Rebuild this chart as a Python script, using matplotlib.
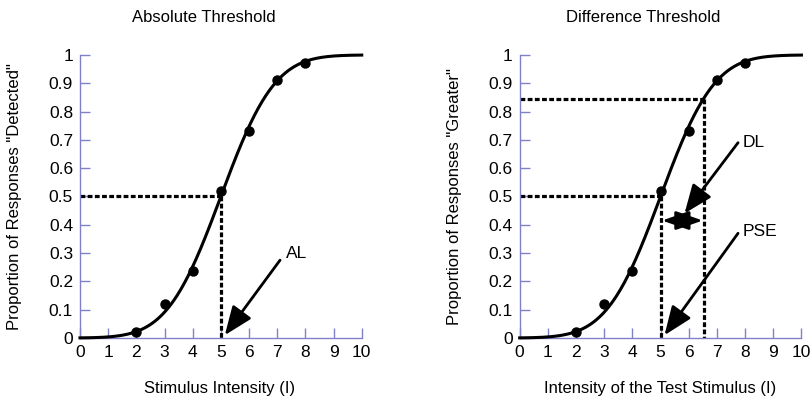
import math
import numpy as np
import matplotlib
matplotlib.use("Agg")
import matplotlib.pyplot as plt

plt.rcParams['font.family'] = ['Liberation Sans', 'DejaVu Sans']

# measured proportions at each stimulus level
intensity = [2, 3, 4, 5, 6, 7, 8]
p_detected = [0.02, 0.12, 0.235, 0.52, 0.73, 0.91, 0.97]
p_greater = [0.02, 0.12, 0.235, 0.52, 0.73, 0.91, 0.97]

# fitted cumulative normal
fit_mu = 5.0
fit_sigma = 1.5

x_ticks = list(range(0, 11))
y_ticks = [0, 0.1, 0.2, 0.3, 0.4, 0.5, 0.6, 0.7, 0.8, 0.9, 1]
y_ticklabels = ["0", "0.1", "0.2", "0.3", "0.4", "0.5", "0.6", "0.7", "0.8", "0.9", "1"]

al_value = 5.0
pse_value = 5.0
p_upper = 0.845
upper_value = 6.55
dl_arrow_y = 0.415

axis_col = '#8080c8'


def psychometric(x):
    return np.array([0.5 * (1 + math.erf((v - fit_mu) / (fit_sigma * math.sqrt(2)))) for v in x])


def setup(ax, ylabel):
    xs = np.linspace(0, 10, 300)
    ax.plot(xs, psychometric(xs), color='black', lw=2.2, clip_on=False, zorder=3)
    ax.set_xlim(0, 10)
    ax.set_ylim(0, 1)
    for s in ['top', 'right']:
        ax.spines[s].set_visible(False)
    for s in ['left', 'bottom']:
        ax.spines[s].set_color(axis_col)
        ax.spines[s].set_linewidth(1)
    ax.tick_params(direction='in', length=7.5, width=1, color=axis_col, labelsize=12.5, pad=5)
    ax.set_xticks(x_ticks)
    ax.set_yticks(y_ticks)
    ax.set_yticklabels(y_ticklabels)
    ax.set_ylabel(ylabel, fontsize=12)
    ax.yaxis.set_label_coords(-0.205, 0.5)


dash = (0, (1.5, 0.75))
arrow_kw = dict(arrowstyle='-|>,head_length=0.8,head_width=0.32',
                lw=2, color='black', mutation_scale=22, shrinkA=0, shrinkB=0)

fig = plt.figure(figsize=(8.12, 3.97), dpi=100)
ax1 = fig.add_axes([0.0985, 0.1486, 0.347, 0.713])
ax2 = fig.add_axes([0.640, 0.1486, 0.347, 0.713])

# left: absolute threshold
setup(ax1, 'Proportion of Responses "Detected"')
ax1.plot(intensity, p_detected, 'o', color='black', ms=6.5, zorder=4, clip_on=False)
ax1.plot([0, al_value], [0.5, 0.5], color='black', lw=2.3, ls=dash, zorder=2)
ax1.plot([al_value, al_value], [0.5, 0], color='black', lw=2.3, ls=dash, zorder=2)
ax1.annotate('', xy=(5.14, 0.01), xytext=(7.1, 0.275), arrowprops=arrow_kw)
ax1.text(7.3, 0.3, 'AL', fontsize=12.5, va='center', ha='left')

# right: difference threshold
setup(ax2, 'Proportion of Responses "Greater"')
ax2.plot(intensity, p_greater, 'o', color='black', ms=6.5, zorder=4, clip_on=False)
ax2.plot([0, pse_value], [0.5, 0.5], color='black', lw=2.3, ls=dash, zorder=2)
ax2.plot([pse_value, pse_value], [0.5, 0], color='black', lw=2.3, ls=dash, zorder=2)
ax2.plot([0, upper_value], [p_upper, p_upper], color='black', lw=2.3, ls=dash, zorder=2)
ax2.plot([upper_value, upper_value], [p_upper, 0], color='black', lw=2.3, ls=dash, zorder=2)
ax2.annotate('', xy=(pse_value + 0.05, dl_arrow_y), xytext=(upper_value - 0.05, dl_arrow_y),
             arrowprops=dict(arrowstyle='<|-|>,head_length=0.75,head_width=0.26',
                             lw=2, color='black', mutation_scale=22, shrinkA=0, shrinkB=0))
ax2.annotate('', xy=(5.85, 0.44), xytext=(7.75, 0.69), arrowprops=arrow_kw)
ax2.text(7.9, 0.69, 'DL', fontsize=12.5, va='center', ha='left')
ax2.annotate('', xy=(5.14, 0.01), xytext=(7.75, 0.37), arrowprops=arrow_kw)
ax2.text(7.9, 0.375, 'PSE', fontsize=12.5, va='center', ha='left')

# titles and x labels
fig.text(204 / 812, 1 - 17 / 397, 'Absolute Threshold', fontsize=12, ha='center', va='center')
fig.text(643 / 812, 1 - 17 / 397, 'Difference Threshold', fontsize=12, ha='center', va='center')
fig.text(220 / 812, 1 - 388 / 397, 'Stimulus Intensity (I)', fontsize=12, ha='center', va='center')
fig.text(660 / 812, 1 - 388 / 397, 'Intensity of the Test Stimulus (I)', fontsize=12, ha='center', va='center')

fig.savefig('out.png', dpi=100)
